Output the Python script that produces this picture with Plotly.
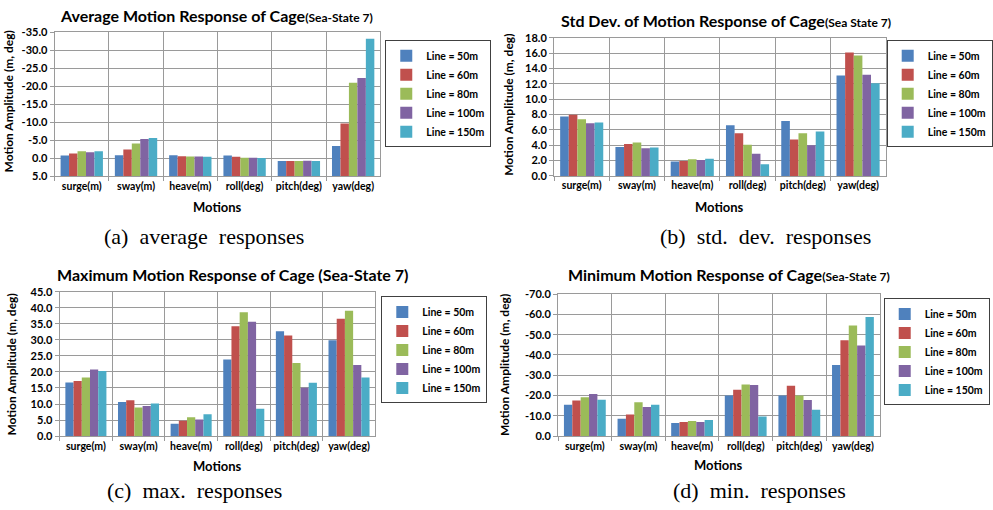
import plotly.graph_objects as go

W, H = 993, 510

motions = ["surge(m)", "sway(m)", "heave(m)", "roll(deg)", "pitch(deg)", "yaw(deg)"]
lines = ["Line = 50m", "Line = 60m", "Line = 80m", "Line = 100m", "Line = 150m"]
colors = ["#4F81BD", "#C0504D", "#9BBB59", "#8064A2", "#4BACC6"]

# (a) average responses, one list per line length, values per motion
avg_50 = [-0.7, -0.8, -0.8, -0.7, 0.8, -3.4]
avg_60 = [-1.3, -2.4, -0.55, -0.4, 0.8, -9.6]
avg_80 = [-1.9, -4.1, -0.45, -0.1, 0.8, -21.0]
avg_100 = [-1.6, -5.3, -0.45, -0.1, 0.7, -22.3]
avg_150 = [-1.9, -5.6, -0.35, 0.0, 0.8, -33.2]

# (b) std. dev. responses
std_50 = [7.75, 3.77, 1.86, 6.6, 7.16, 13.1]
std_60 = [7.97, 4.15, 1.95, 5.55, 4.75, 16.1]
std_80 = [7.4, 4.36, 2.16, 4.07, 5.55, 15.7]
std_100 = [6.86, 3.6, 2.08, 2.88, 3.98, 13.2]
std_150 = [6.95, 3.69, 2.25, 1.53, 5.8, 12.08]

# (c) max. responses
max_50 = [16.7, 10.6, 3.85, 23.9, 32.7, 29.9]
max_60 = [17.2, 11.2, 4.8, 34.3, 31.4, 36.6]
max_80 = [18.3, 8.9, 5.9, 38.6, 22.8, 39.1]
max_100 = [20.8, 9.4, 5.2, 35.7, 15.1, 22.2]
max_150 = [20.3, 10.2, 6.8, 8.5, 16.6, 18.3]

# (d) min. responses
min_50 = [-15.5, -8.5, -6.4, -20.0, -20.0, -35.1]
min_60 = [-17.5, -10.6, -6.9, -22.9, -24.8, -47.3]
min_80 = [-19.1, -16.7, -7.5, -25.5, -20.0, -54.6]
min_100 = [-20.7, -14.3, -6.9, -25.2, -17.8, -44.7]
min_150 = [-17.9, -15.5, -7.9, -9.6, -13.0, -58.7]

avg_ticks = [-35, -30, -25, -20, -15, -10, -5, 0, 5]
std_ticks = [0, 2, 4, 6, 8, 10, 12, 14, 16, 18]
max_ticks = [0, 5, 10, 15, 20, 25, 30, 35, 40, 45]
min_ticks = [-70, -60, -50, -40, -30, -20, -10, 0]

titles = [
    "Average Motion Response of Cage<span style='font-size:12px'>(Sea-State 7)</span>",
    "Std Dev. of Motion Response of Cage<span style='font-size:12px'>(Sea State 7)</span>",
    "Maximum Motion Response of Cage (Sea-State 7)",
    "Minimum Motion Response of Cage<span style='font-size:12px'>(Sea-State 7)</span>",
]
captions = [
    "(a)\u00a0 average\u00a0 responses",
    "(b)\u00a0 std.\u00a0 dev.\u00a0 responses",
    "(c)\u00a0 max.\u00a0 responses",
    "(d)\u00a0 min.\u00a0 responses",
]
y_title = "Motion Amplitude (m, deg)"
x_title = "Motions"

panels = [
    dict(data=[avg_50, avg_60, avg_80, avg_100, avg_150], base=5, ticks=avg_ticks,
         rng=[5, -35], px=(55, 383), py=(26, 173.5), leg=(388, 34),
         title=(218, 9), ytit=(9, 97), xlab=205, cap=(205, 235)),
    dict(data=[std_50, std_60, std_80, std_100, std_150], base=0, ticks=std_ticks,
         rng=[0, 18], px=(558, 892), py=(31.7, 173.3), leg=(893, 34),
         title=(731, 14), ytit=(512, 100), xlab=205, cap=(771, 235)),
    dict(data=[max_50, max_60, max_80, max_100, max_150], base=0, ticks=max_ticks,
         rng=[0, 45], px=(60, 378), py=(292.3, 440.3), leg=(384, 297),
         title=(234, 275), ytit=(12, 367), xlab=471, cap=(196, 496)),
    dict(data=[min_50, min_60, min_80, min_100, min_150], base=0, ticks=min_ticks,
         rng=[0, -70], px=(562, 886), py=(294.7, 440.3), leg=(890, 299),
         title=(734, 274), ytit=(508, 367), xlab=470, cap=(765, 496)),
]

font_family = "Lato, Liberation Sans, Arial, sans-serif"
grid_c = "#9A9A9A"

fig = go.Figure()
layout = dict(width=W, height=H, margin=dict(l=0, r=0, t=0, b=0),
              paper_bgcolor="white", plot_bgcolor="white",
              barmode="group", bargap=0.22, bargroupgap=0.0,
              font=dict(family=font_family, color="black"),
              showlegend=True, annotations=[])

for i, p in enumerate(panels):
    n = i + 1
    xa = "x" if n == 1 else f"x{n}"
    ya = "y" if n == 1 else f"y{n}"
    lg = "legend" if n == 1 else f"legend{n}"
    for j, vals in enumerate(p["data"]):
        fig.add_trace(go.Bar(
            x=motions, y=[v - p["base"] for v in vals], base=p["base"],
            name=lines[j], marker=dict(color=colors[j], line=dict(width=0)),
            xaxis=xa, yaxis=ya, legend=lg, offsetgroup=str(j),
            customdata=vals, hovertemplate="%{x}: %{customdata}<extra>" + lines[j] + "</extra>",
        ))
    xkey = "xaxis" if n == 1 else f"xaxis{n}"
    ykey = "yaxis" if n == 1 else f"yaxis{n}"
    layout[xkey] = dict(
        domain=[p["px"][0] / W, p["px"][1] / W], anchor=ya, type="category",
        tickson="boundaries", showgrid=True, gridcolor=grid_c, gridwidth=1,
        ticks="outside", ticklen=4, tickcolor=grid_c, tickangle=0,
        showline=True, mirror=True, linecolor=grid_c, linewidth=1,
        tickfont=dict(size=10.5, weight="bold", family=font_family), fixedrange=True,
    )
    layout[ykey] = dict(
        domain=[1 - p["py"][1] / H, 1 - p["py"][0] / H], anchor=xa,
        range=p["rng"], tickvals=p["ticks"], ticktext=[f"{t:.1f}" for t in p["ticks"]],
        showgrid=True, gridcolor=grid_c, gridwidth=1, zeroline=False,
        ticks="outside", ticklen=4, tickcolor=grid_c,
        showline=True, mirror=True, linecolor=grid_c, linewidth=1,
        tickfont=dict(size=11, weight="bold", family=font_family), fixedrange=True,
    )
    layout[lg] = dict(
        x=p["leg"][0] / W, y=1 - p["leg"][1] / H, xanchor="left", yanchor="top",
        bgcolor="white", bordercolor="#404040", borderwidth=1,
        font=dict(size=10.5, weight="bold", family=font_family),
        tracegroupgap=0, itemwidth=30,
    )
    ann = layout["annotations"]
    ann.append(dict(text=titles[i], x=p["title"][0] / W, y=1 - p["title"][1] / H,
                    xref="paper", yref="paper", showarrow=False, xanchor="center", yanchor="middle",
                    font=dict(size=16, weight="bold", family=font_family)))
    ann.append(dict(text=y_title, x=p["ytit"][0] / W, y=1 - p["ytit"][1] / H, textangle=-90,
                    xref="paper", yref="paper", showarrow=False, xanchor="center", yanchor="middle",
                    font=dict(size=12, weight="bold", family=font_family)))
    xc = (p["px"][0] + p["px"][1]) / 2
    ann.append(dict(text=x_title, x=xc / W, y=1 - p["xlab"] / H,
                    xref="paper", yref="paper", showarrow=False, xanchor="center", yanchor="middle",
                    font=dict(size=13, weight="bold", family=font_family)))
    ann.append(dict(text=captions[i], x=p["cap"][0] / W, y=1 - p["cap"][1] / H,
                    xref="paper", yref="paper", showarrow=False, xanchor="center", yanchor="middle",
                    font=dict(size=22, family="Liberation Serif, Times New Roman, serif")))

fig.update_layout(**layout)
fig.write_html("out.html", config={"displayModeBar": False},
               post_script="document.body.style.margin='0px';")
